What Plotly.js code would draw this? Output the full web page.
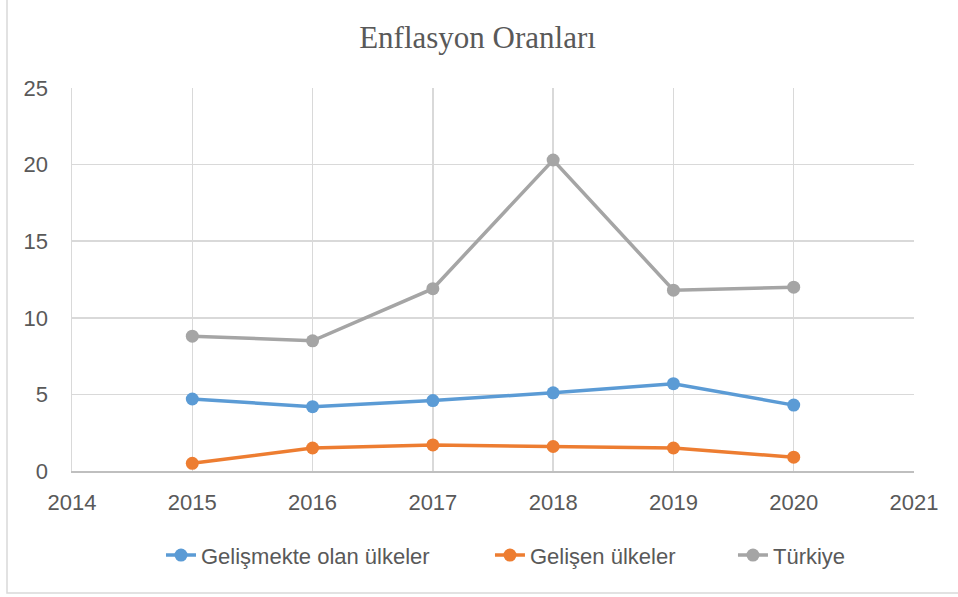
<!DOCTYPE html>
<html>
<head>
<meta charset="utf-8">
<script src="https://cdn.plot.ly/plotly-3.0.1.min.js"></script>
<style>
html,body{margin:0;padding:0;background:#fff;}
#chart{width:958px;height:597px;}
</style>
</head>
<body>
<div id="chart"></div>
<script>
const years = [2015, 2016, 2017, 2018, 2019, 2020];
const gelismekteOlan = [4.7, 4.2, 4.6, 5.1, 5.7, 4.3];
const gelisen = [0.5, 1.5, 1.7, 1.6, 1.5, 0.9];
const turkiye = [8.8, 8.5, 11.9, 20.3, 11.8, 12.0];
const seriesNames = ["Gelişmekte olan ülkeler", "Gelişen ülkeler", "Türkiye"];
const colors = ["#5B9BD5", "#ED7D31", "#A5A5A5"];
const xTicks = [2014, 2015, 2016, 2017, 2018, 2019, 2020, 2021];
const yTicks = [0, 5, 10, 15, 20, 25];

const seriesData = [gelismekteOlan, gelisen, turkiye];
const legendIds = ["legend", "legend2", "legend3"];
const legendX = [0.1057, 0.4964, 0.785];

const traces = seriesData.map((vals, i) => ({
  x: years,
  y: vals,
  name: seriesNames[i],
  type: "scatter",
  mode: "lines+markers",
  line: {color: colors[i], width: 3.5},
  marker: {color: colors[i], size: 13},
  cliponaxis: false,
  legend: legendIds[i]
}));

const tickFont = {family: "Liberation Sans, Arial, sans-serif", size: 22, color: "#595959"};
const legendFont = {family: "Liberation Sans, Arial, sans-serif", size: 22, color: "#595959"};

const layout = {
  width: 958,
  height: 597,
  margin: {l: 72, r: 44, t: 88, b: 126},
  paper_bgcolor: "#ffffff",
  plot_bgcolor: "#ffffff",
  title: {
    text: "Enflasyon Oranları",
    font: {family: "Liberation Serif, Times New Roman, serif", size: 31, color: "#595959"},
    x: 0.4816, xanchor: "center", xref: "paper",
    y: 0.937, yanchor: "middle", yref: "container"
  },
  xaxis: {
    range: [2014, 2021],
    tickvals: xTicks,
    ticktext: xTicks.map(String),
    showgrid: true,
    gridcolor: "#d9d9d9",
    gridwidth: 1.5,
    showline: true,
    linecolor: "#bfbfbf",
    linewidth: 1.5,
    zeroline: false,
    ticks: "",
    tickfont: tickFont,
    ticklabelstandoff: 11,
    fixedrange: true
  },
  yaxis: {
    range: [0, 25],
    tickvals: yTicks,
    showgrid: true,
    gridcolor: "#d9d9d9",
    gridwidth: 1.5,
    showline: true,
    linecolor: "#d9d9d9",
    linewidth: 1.5,
    zeroline: false,
    ticks: "",
    tickfont: tickFont,
    ticklabelstandoff: 18,
    fixedrange: true
  },
  showlegend: true,
  shapes: [{
    type: "rect", xref: "paper", yref: "paper",
    x0: -0.0772, x1: 1.07, y0: -0.3185, y1: 1.3,
    line: {color: "#d9d9d9", width: 1.5},
    fillcolor: "rgba(0,0,0,0)",
    layer: "below"
  }]
};

legendIds.forEach((id, i) => {
  layout[id] = {
    orientation: "h",
    x: legendX[i], xanchor: "left",
    y: -0.22, yanchor: "middle",
    font: legendFont,
    bgcolor: "rgba(0,0,0,0)"
  };
});

Plotly.newPlot("chart", traces, layout, {displayModeBar: false, staticPlot: true});
</script>
</body>
</html>
